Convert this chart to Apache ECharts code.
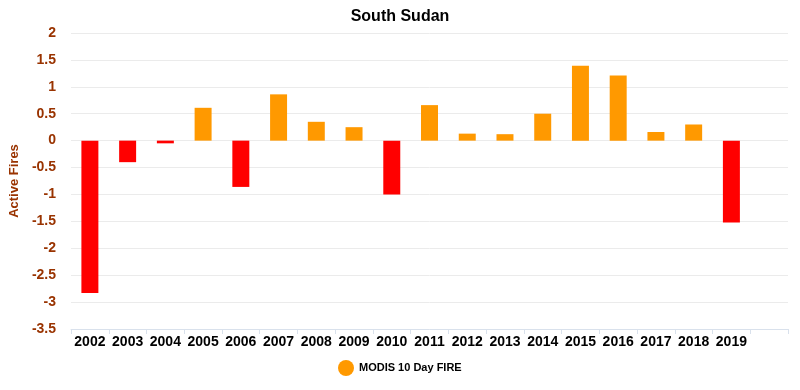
<!DOCTYPE html>
<html>
<head>
<meta charset="utf-8">
<script src="https://cdn.jsdelivr.net/npm/echarts@6/dist/echarts.min.js"></script>
<style>html,body{margin:0;padding:0;background:#fff}#c{width:800px;height:390px}</style>
</head>
<body>
<div id="c"></div>
<script>
const categories = ['2002','2003','2004','2005','2006','2007','2008','2009','2010','2011','2012','2013','2014','2015','2016','2017','2018','2019',''];
const fireValues = [-2.83,-0.40,-0.05,0.61,-0.86,0.86,0.35,0.25,-1.00,0.66,0.13,0.12,0.50,1.39,1.21,0.16,0.30,-1.52,null];
const yTicks = { min: -3.5, max: 2, interval: 0.5 };
const seriesName = 'MODIS 10 Day FIRE';

const chart = echarts.init(document.getElementById('c'));
chart.setOption({
  animation: false,
  title: {
    text: 'South Sudan', left: 'center', top: 4,
    textStyle: { fontFamily: 'Arial, Liberation Sans', fontSize: 16, fontWeight: 'bold', color: '#000' }
  },
  legend: {
    data: [{ name: seriesName, icon: 'circle', itemStyle: { color: '#FF9900' } }],
    left: 333, top: 355, itemWidth: 16, itemHeight: 16, itemGap: 6,
    textStyle: { fontFamily: 'Arial, Liberation Sans', fontSize: 11, fontWeight: 'bold', color: '#000' }
  },
  grid: { left: 67, right: 12, top: 33, bottom: 61, containLabel: false },
  xAxis: {
    type: 'category', data: categories,
    axisLine: { onZero: false, lineStyle: { color: '#d9e1ec', width: 1 } },
    axisTick: { show: true, length: 5, alignWithLabel: false, lineStyle: { color: '#d9e1ec' } },
    axisLabel: { interval: 0, margin: 6, fontFamily: 'Arial, Liberation Sans', fontSize: 14, fontWeight: 'bold', color: '#000' },
    position: 'bottom'
  },
  yAxis: {
    type: 'value', min: yTicks.min, max: yTicks.max, interval: yTicks.interval,
    name: 'Active Fires', nameLocation: 'middle', nameGap: 46, nameRotate: 90,
    nameTextStyle: { fontFamily: 'Arial, Liberation Sans', fontSize: 13, fontWeight: 'bold', color: '#993300' },
    axisLine: { show: false }, axisTick: { show: false },
    axisLabel: { margin: 15, fontFamily: 'Arial, Liberation Sans', fontSize: 14, fontWeight: 'bold', color: '#993300' },
    splitLine: { lineStyle: { color: '#ebebeb', width: 1 } }
  },
  series: [{
    name: seriesName, type: 'bar', data: fireValues, barWidth: '45%',
    itemStyle: { color: function (p) { return p.value < 0 ? '#FF0000' : '#FF9900'; } }
  }]
});
</script>
</body>
</html>
